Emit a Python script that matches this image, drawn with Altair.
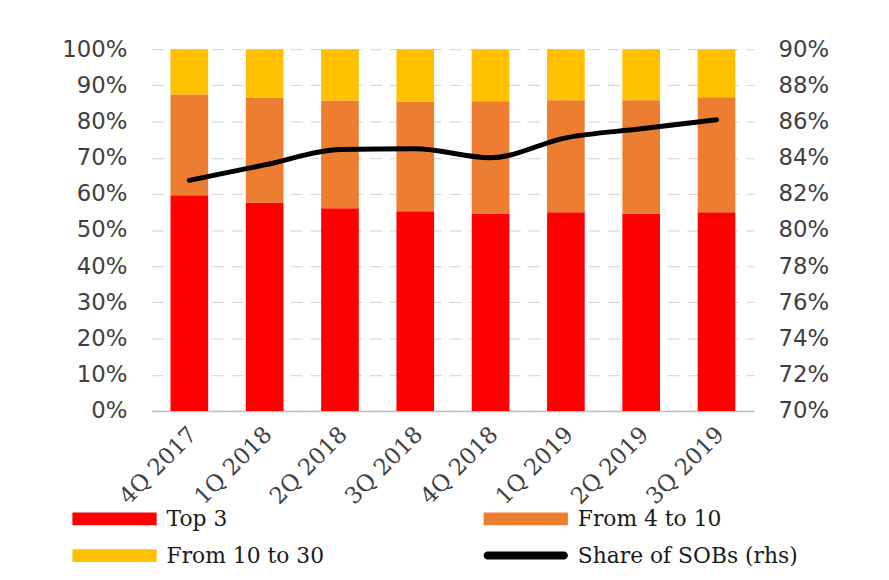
import altair as alt
import pandas as pd

quarters = ["4Q 2017", "1Q 2018", "2Q 2018", "3Q 2018", "4Q 2018", "1Q 2019", "2Q 2019", "3Q 2019"]
top3 = [59.6, 57.6, 56.0, 55.2, 54.6, 54.9, 54.6, 54.9]
from4to10 = [27.9, 29.0, 29.8, 30.3, 31.0, 31.0, 31.3, 31.8]
from10to30 = [12.5, 13.4, 14.2, 14.5, 14.4, 14.1, 14.1, 13.3]
sobs_share = [82.75, 83.6, 84.45, 84.5, 84.0, 85.1, 85.6, 86.1]

bar_series = ["Top 3", "From 4 to 10", "From 10 to 30"]
# legend order (filled column by column): Top 3 / From 10 to 30, From 4 to 10 / Share of SOBs
legend_series = ["Top 3", "From 10 to 30", "From 4 to 10", "Share of SOBs (rhs)"]
legend_colors = ["#FF0000", "#FFC000", "#ED7D31", "#000000"]

rows = []
for i, q in enumerate(quarters):
    for k, (name, vals) in enumerate(zip(bar_series, [top3, from4to10, from10to30])):
        rows.append({"quarter": q, "series": name, "value": vals[i] / 100, "order": k})
bars_df = pd.DataFrame(rows)
line_df = pd.DataFrame({"quarter": quarters, "share": [v / 100 for v in sobs_share]})
legend_df = pd.DataFrame({"series": legend_series})

rect_path = "M-1,-0.65H7.5V0.65H-1Z"
line_path = "M-0.6,-0.4H7.1A0.4,0.4 0 0 1 7.1,0.4H-0.6A0.4,0.4 0 0 1 -0.6,-0.4Z"

serif = "DejaVu Serif"
sans = "DejaVu Sans"
label_color = "#404040"

color_scale = alt.Scale(domain=legend_series, range=legend_colors)

x_enc = alt.X("quarter:N", sort=quarters, title=None,
              scale=alt.Scale(paddingInner=0.5, paddingOuter=0.25),
              axis=alt.Axis(labelAngle=-45, labelAlign="right", labelBaseline="top",
                            labelFont=serif, labelFontSize=23, labelColor=label_color,
                            labelPadding=12, labelOffset=-4, ticks=False, domainColor="#bfbfbf",
                            domainWidth=1.5, grid=False))

bars = alt.Chart(bars_df).mark_bar().encode(
    x=x_enc,
    y=alt.Y("value:Q", stack="zero", title=None,
            scale=alt.Scale(domain=[0, 1], nice=False),
            axis=alt.Axis(format=".0%", values=[i / 10 for i in range(11)],
                          labelFont=sans, labelFontSize=23, labelColor=label_color,
                          labelPadding=25, ticks=False, domain=False,
                          grid=True, gridColor="#d0d0d0", gridDash=[12, 8], gridWidth=1)),
    color=alt.Color("series:N", scale=color_scale, title=None),
    order=alt.Order("order:Q"),
)

line = alt.Chart(line_df).mark_line(color="black", strokeWidth=5, strokeCap="round",
                                    interpolate="monotone").encode(
    x=alt.X("quarter:N", sort=quarters),
    y=alt.Y("share:Q", title=None,
            scale=alt.Scale(domain=[0.7, 0.9], nice=False, zero=False),
            axis=alt.Axis(format=".0%", values=[0.7 + 0.02 * i for i in range(11)],
                          labelFont=sans, labelFontSize=23, labelColor=label_color,
                          labelPadding=24, ticks=False, domain=False, grid=False,
                          orient="right")),
)

legend_pts = alt.Chart(legend_df).mark_point(filled=True, clip=True, opacity=1).encode(
    x=alt.value(-500),
    y=alt.value(-500),
    color=alt.Color("series:N", scale=color_scale, title=None,
                    legend=alt.Legend(orient="none", legendX=-81, legendY=463, columns=2,
                                      columnPadding=160, rowPadding=15, padding=0,
                                      labelFont=serif, labelFontSize=22, labelColor="#1a1a1a",
                                      labelOffset=74, symbolSize=400, symbolStrokeWidth=0,
                                      symbolOpacity=1, labelLimit=400)),
    shape=alt.Shape("series:N", scale=alt.Scale(domain=legend_series,
                                                range=[rect_path, rect_path, rect_path, line_path]),
                    title=None),
)

chart = alt.layer(bars, line, legend_pts).resolve_scale(y="independent").properties(
    width=608, height=365,
    autosize=alt.AutoSizeParams(type="none"),
    padding={"left": 145, "top": 39, "right": 128, "bottom": 160},
).configure_view(stroke=None)

chart.save("out.html", embed_options={"renderer": "svg", "actions": False})
